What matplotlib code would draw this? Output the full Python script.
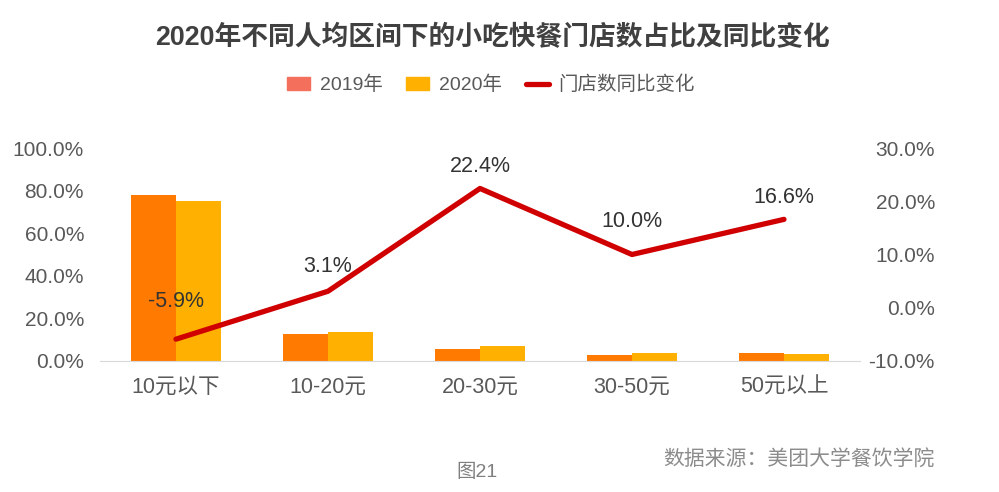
import numpy as np
import matplotlib.pyplot as plt
from matplotlib.patches import Patch
from matplotlib.lines import Line2D

plt.rcParams['font.family'] = ['Liberation Sans', 'Noto Sans CJK SC', 'DejaVu Sans']

# Donnees
categories = ["10元以下", "10-20元", "20-30元", "30-50元", "50元以上"]
share_2019 = [78.0, 12.7, 5.6, 2.8, 3.6]
share_2020 = [75.0, 13.6, 7.0, 3.8, 3.5]
yoy_change = [-5.9, 3.1, 22.4, 10.0, 16.6]

c2019 = "#FF7A00"
c2019_leg = "#F4705C"
c2020 = "#FFB000"
cline = "#D00000"
grey = "#595959"

fig = plt.figure(figsize=(9.99, 4.92), dpi=100)
ax = fig.add_axes([100/999, 1-361/492, 760/999, 213/492])
ax2 = ax.twinx()

x = np.arange(len(categories))
w = 0.296
ax.bar(x - w/2, share_2019, w, color=c2019, zorder=2)
ax.bar(x + w/2, share_2020, w, color=c2020, zorder=2)

ax.set_xlim(-0.5, len(categories) - 0.5)
ax.set_ylim(0, 100)
ax.set_yticks(np.arange(0, 101, 20))
ax.set_yticklabels([f"{v:.1f}%" for v in np.arange(0, 101, 20)])
ax.set_xticks(x)
ax.set_xticklabels(categories)

ax2.plot(x, yoy_change, color=cline, lw=3.8, solid_capstyle="round", zorder=3)
ax2.set_ylim(-10, 30)
ax2.set_yticks(np.arange(-10, 31, 10))
ax2.set_yticklabels([f"{v:.1f}%" for v in np.arange(-10, 31, 10)], ha="right")

offsets = [27, 18, 16, 24, 16]
for xi, v, off in zip(x, yoy_change, offsets):
    ax2.annotate(f"{v:.1f}%", (xi, v), xytext=(0, off), textcoords="offset points",
                 ha="center", va="center", fontsize=15.5, color="#333333")

for a in (ax, ax2):
    for s in a.spines.values():
        s.set_visible(False)
    a.tick_params(length=0, labelsize=15, colors=grey)
ax.spines["bottom"].set_visible(True)
ax.spines["bottom"].set_color("#D9D9D9")
ax.tick_params(axis="y", pad=11.5)
ax2.tick_params(axis="y", pad=54)
ax.tick_params(axis="x", pad=11, labelsize=15.5)

fig.text(492/999, 1-38/492, "2020年不同人均区间下的小吃快餐门店数占比及同比变化",
         ha="center", va="center", fontsize=19.3, fontweight="bold", color="#404040")

handles = [Patch(color=c2019_leg), Patch(color=c2020),
           Line2D([0], [0], color=cline, lw=3.8, solid_capstyle="round")]
fig.legend(handles, ["2019年", "2020年", "门店数同比变化"], loc="center",
           bbox_to_anchor=(491/999, 1-85/492), ncol=3, frameon=False,
           fontsize=14, labelcolor=grey, handlelength=1.2, handleheight=0.6,
           columnspacing=1.2, handletextpad=0.5)

fig.text(935/999, 1-459/492, "数据来源：美团大学餐饮学院", ha="right", va="center",
         fontsize=15, color="#8C8C8C")
fig.text(477/999, 1-472/492, "图21", ha="center", va="center", fontsize=14, color="#7F7F7F")

fig.savefig("out.png", dpi=100)
